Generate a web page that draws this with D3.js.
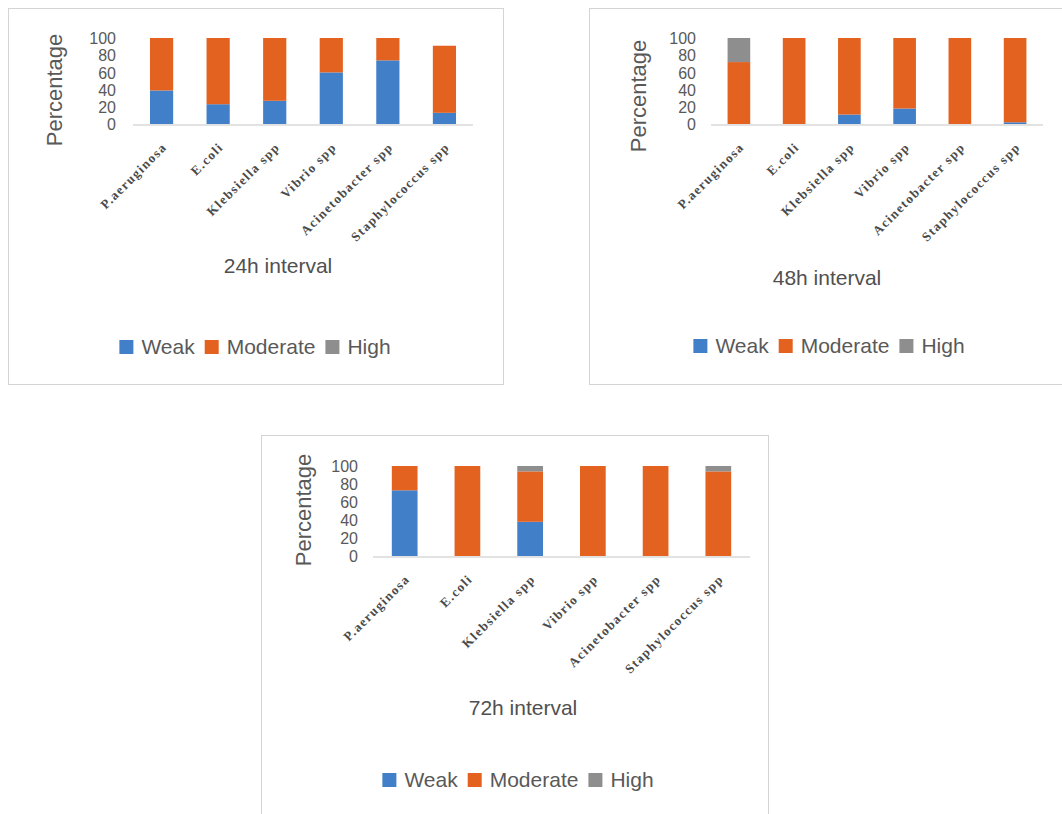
<!DOCTYPE html>
<html>
<head>
<meta charset="utf-8">
<script src="https://cdn.jsdelivr.net/npm/d3@7"></script>
<style>
  body { margin: 0; background: #fff; }
  svg { display: block; font-family: "Liberation Sans", Arial, sans-serif; }
</style>
</head>
<body>
<div id="container"></div>
<script>
// categories and series
var species = ["P.aeruginosa", "E.coli", "Klebsiella spp", "Vibrio spp", "Acinetobacter spp", "Staphylococcus spp"];
var levels = ["Weak", "Moderate", "High"];
var yTicks = [0, 20, 40, 60, 80, 100];

var weak24 = [39, 23, 27, 60, 74, 13];
var moderate24 = [61, 77, 73, 40, 26, 78];
var high24 = [0, 0, 0, 0, 0, 0];

var weak48 = [0, 0, 11, 18, 0, 2];
var moderate48 = [72, 100, 89, 82, 100, 98];
var high48 = [28, 0, 0, 0, 0, 0];

var weak72 = [73, 0, 38, 0, 0, 0];
var moderate72 = [27, 100, 56, 100, 100, 94];
var high72 = [0, 0, 6, 0, 0, 6];

var colors = { Weak: "#4180c8", Moderate: "#e4621f", High: "#8e8e8e" };
var textCol = "#595959";

var panels = [
  { title: "24h interval", weak: weak24, moderate: moderate24, high: high24,
    box: [8, 8, 495, 376], x0: 133, x1: 473, y0: 124, y1: 38, tickX: 116,
    ylab: [62, 90], titlePos: [278, 273], legend: [255, 354] },
  { title: "48h interval", weak: weak48, moderate: moderate48, high: high48,
    box: [589, 8, 480, 376], x0: 711, x1: 1043, y0: 124, y1: 38, tickX: 696,
    ylab: [646, 96], titlePos: [827, 285], legend: [829, 353] },
  { title: "72h interval", weak: weak72, moderate: moderate72, high: high72,
    box: [261, 435, 507, 400], x0: 373, x1: 750, y0: 556, y1: 466, tickX: 358,
    ylab: [311, 510], titlePos: [523, 715], legend: [518, 787] }
];

var svg = d3.select("#container").append("svg")
  .attr("width", 1062).attr("height", 814);

panels.forEach(function(p) {
  var g = svg.append("g");

  g.append("rect")
    .attr("x", p.box[0] + 0.5).attr("y", p.box[1] + 0.5)
    .attr("width", p.box[2]).attr("height", p.box[3])
    .attr("fill", "#fff").attr("stroke", "#d4d4d4").attr("stroke-width", 1);

  var rows = species.map(function(s, i) {
    return { name: s, Weak: p.weak[i], Moderate: p.moderate[i], High: p.high[i] };
  });
  var series = d3.stack().keys(levels)(rows);

  var x = d3.scaleBand().domain(species).range([p.x0, p.x1]).paddingInner(0.59).paddingOuter(0.3);
  var y = d3.scaleLinear().domain([0, 100]).range([p.y0, p.y1]);

  // bars
  g.selectAll("g.layer")
    .data(series)
    .enter().append("g")
    .classed("layer", true)
    .attr("fill", function(d) { return colors[d.key]; })
    .selectAll("rect")
    .data(function(d) { return d; })
    .enter().append("rect")
    .attr("x", function(d) { return x(d.data.name); })
    .attr("width", x.bandwidth())
    .attr("y", function(d) { return y(d[1]); })
    .attr("height", function(d) { return Math.max(0, y(d[0]) - y(d[1])); });

  // x axis line
  g.append("line")
    .attr("x1", p.x0).attr("x2", p.x1)
    .attr("y1", y(0) + 1).attr("y2", y(0) + 1)
    .attr("stroke", "#d9d9d9").attr("stroke-width", 1.5);

  // y axis tick labels
  var yAxis = g.append("g")
    .attr("transform", "translate(" + p.tickX + ",0)")
    .call(d3.axisLeft(y).tickValues(yTicks).tickSize(0).tickPadding(0));
  yAxis.select(".domain").remove();
  yAxis.selectAll("text")
    .attr("fill", textCol)
    .attr("dy", "0.35em")
    .style("font-size", "16px")
    .style("font-family", "'Liberation Sans', Arial, sans-serif");

  // x labels
  g.selectAll("text.xlab")
    .data(species)
    .enter().append("text")
    .classed("xlab", true)
    .attr("transform", function(d) {
      return "translate(" + (x(d) + x.bandwidth() / 2 + 6) + "," + (y(0) + 24) + ") rotate(-45)";
    })
    .attr("text-anchor", "end")
    .attr("fill", "#4a4a4a")
    .style("font-size", "13px")
    .style("font-weight", "bold")
    .style("letter-spacing", "1.4px")
    .style("font-family", "'Liberation Serif', serif")
    .text(function(d) { return d; });

  // y title
  g.append("text")
    .attr("transform", "translate(" + p.ylab[0] + "," + p.ylab[1] + ") rotate(-90)")
    .attr("text-anchor", "middle")
    .attr("fill", textCol)
    .style("font-size", "22px")
    .text("Percentage");

  // chart title (below)
  g.append("text")
    .attr("x", p.titlePos[0]).attr("y", p.titlePos[1])
    .attr("text-anchor", "middle")
    .attr("fill", "#505050")
    .style("font-size", "21px")
    .text(p.title);

  // legend
  var leg = g.append("g");
  var cx = 0;
  levels.forEach(function(l) {
    leg.append("rect")
      .attr("x", cx).attr("y", -14)
      .attr("width", 14).attr("height", 14)
      .attr("fill", colors[l]);
    var t = leg.append("text")
      .attr("x", cx + 22).attr("y", 0)
      .attr("fill", textCol)
      .style("font-size", "21px")
      .text(l);
    cx += 22 + t.node().getComputedTextLength() + 10;
  });
  var w = cx - 10;
  leg.attr("transform", "translate(" + (p.legend[0] - w / 2) + "," + p.legend[1] + ")");
});
</script>
</body>
</html>
